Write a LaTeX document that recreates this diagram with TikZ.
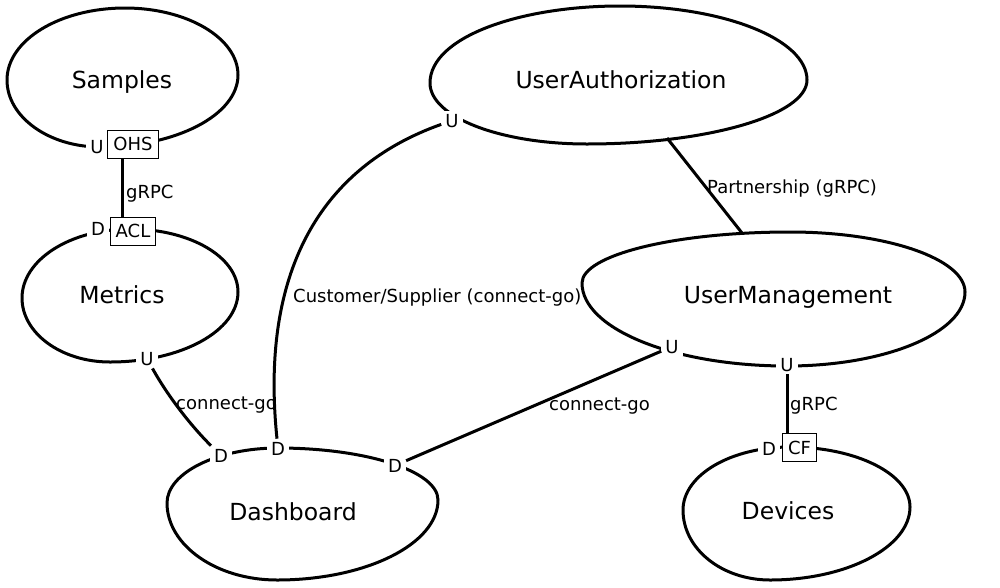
\documentclass[tikz,border=0pt]{standalone}
\usepackage{fontspec}
\setmainfont{DejaVu Sans}
\tikzset{
  blob/.style={line width=3pt, line join=round},
  conn/.style={line width=3pt},
  bctx/.style={font=\fontsize{23.5}{27}\selectfont, anchor=base, inner sep=0pt},
  ud/.style={font=\fontsize{18}{21}\selectfont, fill=white, inner xsep=4pt, inner ysep=3pt, anchor=base},
  pat/.style={draw, line width=1pt, fill=white, font=\fontsize{18}{21}\selectfont, inner xsep=5.5pt, inner ysep=2pt, minimum height=28pt},
  rel/.style={font=\fontsize{18}{21}\selectfont, anchor=base west, inner sep=0pt},
}
\begin{document}
\begin{tikzpicture}[x=1pt,y=-1pt]
\useasboundingbox (0,0) rectangle (1000,587);
% blobs
\draw[blob] (7,80) .. controls (7,40) and (60,8) .. (125,8) .. controls (187,8) and (238,38) .. (238,75) .. controls (238,115) and (176,147) .. (100,147) .. controls (49,147) and (7,117) .. cycle;
\draw[blob] (22,298) .. controls (22,260) and (70,229) .. (130,229) .. controls (190,229) and (238,257) .. (238,292) .. controls (238,331) and (181,362) .. (110,362) .. controls (61,362) and (22,333) .. cycle;
\draw[blob] (167,503) .. controls (167,473) and (217,448) .. (278,448) .. controls (366,448) and (438,471) .. (438,500) .. controls (438,544) and (366,580) .. (277,580) .. controls (216,580) and (167,545) .. cycle;
\draw[blob] (430,83) .. controls (430,37) and (520,6) .. (620,6) .. controls (723,6) and (807,39) .. (807,80) .. controls (807,115) and (708,144) .. (587,144) .. controls (500,144) and (430,117) .. cycle;
\draw[blob] (582,283) .. controls (582,255) and (675,232) .. (790,232) .. controls (887,232) and (965,259) .. (965,292) .. controls (965,333) and (885,366) .. (787,366) .. controls (674,366) and (582,329) .. cycle;
\draw[blob] (683,510) .. controls (683,475) and (731,447) .. (790,447) .. controls (856,447) and (910,474) .. (910,507) .. controls (910,547) and (847,580) .. (770,580) .. controls (722,580) and (683,549) .. cycle;
% context names
\node[bctx] (samples) at (122,88) {Samples};
\node[bctx] (metrics) at (122,303) {Metrics};
\node[bctx] (dashboard) at (293,520) {Dashboard};
\node[bctx] (userauth) at (621,88) {UserAuthorization};
\node[bctx] (usermgmt) at (788,303) {UserManagement};
\node[bctx] (devices) at (788,519) {Devices};
% U/D markers and patterns
\node[ud] (sU) at (97,153) {U};
\node[pat] (ohs) at (133,144) {OHS};
\node[ud] (mD) at (98,235) {D};
\node[pat] (acl) at (133,231) {ACL};
\node[ud] (mU) at (147,365) {U};
\node[ud] (dD1) at (221,462) {D};
\node[ud] (dD2) at (278,455) {D};
\node[ud] (dD3) at (395,472) {D};
\node[ud] (uaU) at (452,127) {U};
\node[ud] (umU1) at (672,353) {U};
\node[ud] (umU2) at (787,371) {U};
\node[ud] (devD) at (769,455) {D};
\node[pat] (cf) at (799.5,447.5) {CF};
\coordinate (pa1) at (667,138);
\coordinate (pa2) at (742,233);
% connectors
\draw[conn] ([xshift=-11pt]ohs.south) -- ([xshift=-11pt]acl.north);
\draw[conn] (mU) .. controls (170,400) and (195,430) .. (dD1);
\draw[conn] (uaU) .. controls (318,168) and (260,275) .. (dD2);
\draw[conn] (umU1) -- (dD3);
\draw[conn] (pa1) -- (pa2);
\draw[conn] (umU2.south) -- (umU2.south |- cf.north);
% relation labels
\node[rel] (l1) at (126,198) {gRPC};
\node[rel] (l2) at (176,409) {connect-go};
\node[rel] (l3) at (293,302) {Customer/Supplier (connect-go)};
\node[rel] (l4) at (549,410) {connect-go};
\node[rel] (l5) at (707,193) {Partnership (gRPC)};
\node[rel] (l6) at (790,410) {gRPC};
\end{tikzpicture}
\end{document}
